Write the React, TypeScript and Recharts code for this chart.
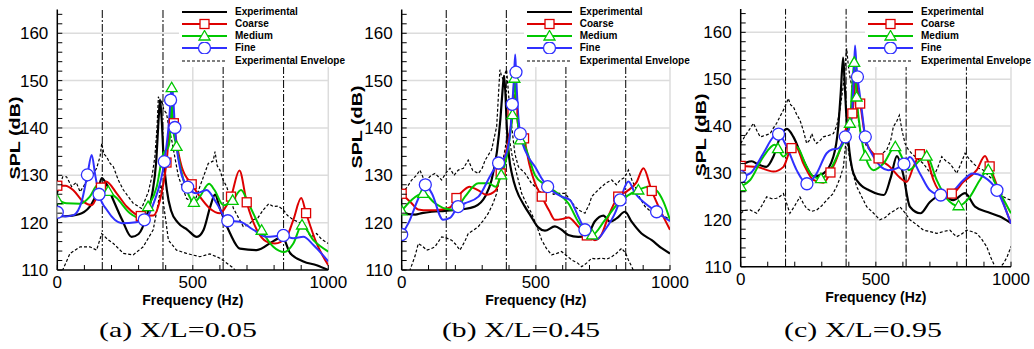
import React from "react";
import { ComposedChart, Line, ReferenceLine, XAxis, YAxis } from "recharts";

type P = [number, number];

const FONT = "'Liberation Sans', Arial, Helvetica, sans-serif";
const RED = "#dd0000";
const GREEN = "#00c800";
const BLUE = "#3030ff";

// axis ticks (all ticks carry a small inward mark, labels only on the major ones)
const yMajor = [110, 120, 130, 140, 150, 160];
const xMajor = [0, 500, 1000];
const yGrid = [120, 130, 140, 150, 160];
const xGrid = [500, 1000];
const yMinor = [110, 112, 114, 116, 118, 120, 122, 124, 126, 128, 130, 132, 134, 136, 138, 140, 142, 144, 146, 148, 150, 152, 154, 156, 158, 160, 162, 164];
const xMinor = [0, 100, 200, 300, 400, 500, 600, 700, 800, 900, 1000];
const modeFreqs = [166, 390, 612, 835];
const seriesNames = ["Experimental", "Coarse", "Medium", "Fine", "Experimental Envelope"];
const captions = ["(a) X/L=0.05", "(b) X/L=0.45", "(c) X/L=0.95"];

// ---- (a) X/L = 0.05
const expA: P[] = [[0,121.3],[40,121.4],[90,122],[127,124],[150,126.8],[164,129.4],[180,128.3],[205,125],[240,120.5],[274,117],[300,117.6],[330,121.5],[350,126],[365,133],[374,142],[379,146],[385,142],[392,134],[404,127],[420,122.5],[445,120],[480,118.5],[515,117],[540,118.5],[565,123.5],[582,125.9],[600,123],[637,117.8],[674,114.5],[736,114.2],[797,116.1],[830,117],[859,113.6],[908,111.8],[957,111],[1000,110]];
const coarseA: P[] = [[0,127.8],[30,127.8],[60,126.8],[95,124.5],[127,123.7],[161,127.4],[180,128.7],[219,126.2],[256,123.4],[308,121.4],[354,121.5],[379,124.8],[403,132.7],[421,143.2],[430,141],[440,137],[459,131.8],[496,128.1],[526,125.5],[563,123],[600,122],[618,123],[641,125.5],[672,131],[699,124.3],[736,118.5],[772,116],[803,115.6],[846,117],[871,120.6],[900,125.2],[918,122],[957,115.6],[1000,111]];
const coarseAMarks = [0, 161, 308, 403, 430, 496, 641, 699, 918];
const mediumA: P[] = [[0,124.8],[34,124.1],[84,124],[120,125.5],[150,128],[170,127.7],[188,126.6],[219,125.2],[268,122],[305,121],[335,123.4],[367,127.6],[391,134.6],[410,136],[418,140],[422,148.5],[427,140],[440,136.1],[455,131.5],[480,126.5],[504,124.3],[526,125.5],[560,128.2],[580,126.9],[613,123.7],[647,124.7],[678,126.9],[705,124.1],[754,118.4],[797,114.9],[838,113.8],[871,115.6],[903,119.5],[945,116.3],[1000,113.9]];
const mediumAMarks = [0, 188, 335, 422, 440, 504, 647, 754, 903];
const fineA: P[] = [[0,122.2],[30,121.3],[60,121.6],[90,124.5],[111,130.1],[127,134.3],[140,130],[154,126],[185,122.5],[238,119.9],[290,120.1],[321,120.6],[360,124.8],[395,132.9],[410,140],[418,145.9],[422,149.5],[428,146],[434,140.1],[455,131],[481,127.5],[514,126.2],[551,126.9],[588,124.1],[629,120.4],[674,120.2],[723,118.5],[772,117],[834,117.3],[871,116.7],[908,117],[945,115.3],[1000,111.8]];
const fineAMarks = [0, 111, 154, 321, 395, 418, 434, 481, 629, 834];
const envUpA: P[] = [[0,126.2],[20,129.7],[34,129.7],[53,127.6],[70,128.5],[84,126.5],[108,128.7],[130,130],[145,131.5],[158,134],[164,136.8],[172,134.5],[182,133.9],[195,132.5],[207,131.8],[225,129],[244,126.9],[280,124.1],[311,123],[336,126.5],[350,130],[360,133.9],[368,140],[373,146.6],[380,145],[385,145.9],[393,143.8],[403,143.1],[412,140],[422,137.5],[447,129.7],[477,125.1],[505,124.1],[526,127.6],[557,132.5],[575,133],[582,135],[590,132],[600,131.1],[612,129],[625,127.6],[650,123],[686,119.2],[705,119.5],[723,120.6],[740,121],[760,122.7],[780,124],[797,123.4],[815,123.5],[834,122.7],[850,121.5],[871,120.6],[895,120],[920,118.5],[935,117],[957,117.7],[975,116.5],[1000,115.6]];
const envLoA: P[] = [[0,108],[20,110],[47,113.5],[84,114.9],[120,114.9],[145,114.2],[164,117.7],[185,116.5],[207,115.6],[244,113.5],[280,113.2],[317,114.9],[354,118.5],[372,124],[383,128],[392,124],[410,116.3],[440,114.2],[477,113.5],[526,112.8],[563,113.4],[600,112.5],[650,110.4],[680,108]];

// ---- (b) X/L = 0.45
const expB: P[] = [[0,122.5],[25,121.8],[50,121.7],[75,122],[112,122.3],[161,122.5],[224,122.8],[273,123.4],[311,125.5],[335,129],[355,135],[368,142],[376,148],[381,151],[386,148],[392,140],[400,134],[412,130],[427,127],[458,123.5],[480,121.5],[509,119],[534,118.3],[571,119.2],[596,118.5],[621,117.4],[658,117],[690,117.2],[720,120.3],[752,121.5],[776,120.2],[801,120.9],[832,122.3],[857,120.2],[894,117.7],[932,116.3],[969,114.6],[1000,113.5]];
const coarseB: P[] = [[0,126.1],[37,124.1],[61,122.8],[100,122.6],[150,122.8],[180,123.2],[204,125.2],[230,126.8],[253,127.6],[286,126.8],[315,125.9],[350,126.8],[369,130.4],[398,137.5],[413,143.1],[419,147],[425,145],[435,140.3],[456,137.8],[475,132.5],[497,128.3],[522,125.5],[550,122.5],[571,120.6],[600,120.8],[621,121.1],[658,119.2],[690,117.3],[720,116.3],[745,117.5],[770,121.3],[807,125.5],[839,126.6],[875,128.5],[901,131.5],[932,126.7],[963,122.7],[1000,118.5]];
const coarseBMarks = [0, 204, 369, 413, 456, 522, 690, 807, 932];
const mediumB: P[] = [[0,122.5],[37,124.8],[80,126.2],[124,124.1],[161,123],[199,122.7],[236,125.5],[286,128.3],[323,128.3],[350,127.6],[371,130.1],[392,134],[405,139],[413,142.8],[420,150.5],[428,144],[442,137.5],[460,136],[497,130],[534,128],[571,126.6],[621,124.1],[660,120],[696,117.7],[710,117.4],[758,120.6],[807,124.1],[845,125.8],[882,126.9],[919,127.6],[950,126.8],[975,124.5],[1000,120.6]];
const mediumBMarks = [0, 80, 371, 413, 420, 442, 710, 882];
const fineB: P[] = [[0,117.5],[25,119.9],[62,125.1],[88,128],[112,126.2],[154,120.6],[180,121],[210,123.4],[236,124.1],[286,125.5],[335,130.4],[361,132.6],[385,133.9],[404,138.9],[412,145],[418,150],[423,155.5],[426,151.8],[434,143],[442,138.8],[472,133.9],[497,131.8],[520,129.5],[544,127.6],[596,125.5],[627,124.8],[658,121.3],[683,118.5],[727,116.5],[758,118.5],[795,122],[814,124.8],[845,128.7],[870,126.2],[907,124.1],[950,122.3],[1000,120.3]];
const fineBMarks = [0, 88, 210, 361, 412, 426, 442, 544, 683, 814, 950];
const envUpB: P[] = [[0,126.2],[20,127.5],[37,129],[55,130],[68,131.1],[80,129.5],[93,129],[110,130],[124,130.4],[149,129],[165,130.5],[180,131.5],[195,130],[211,131.1],[230,131.5],[248,133.2],[265,131],[286,130.4],[300,131.5],[311,133.2],[335,135.4],[354,140.3],[366,152.3],[372,151],[379,150.1],[385,151.5],[391,152.3],[400,146],[410,140.3],[422,134.5],[435,131.8],[460,130.4],[484,128.3],[500,127.5],[522,126.2],[535,127],[547,127.6],[565,126],[584,126.2],[609,126.2],[625,125],[646,123.4],[665,122.5],[683,122],[700,124],[708,125.5],[725,126.5],[745,127.6],[765,128.5],[783,129],[800,128],[814,129],[830,129.5],[845,131.1],[858,129],[870,127.6],[885,125.5],[907,123.4],[925,122.5],[944,122],[960,121.5],[981,121.3],[1000,120.6]];
const envLoB: P[] = [[0,107],[31,110],[50,113],[62,115.6],[78,115],[93,114.2],[110,114.5],[124,114.9],[137,116],[149,117],[165,116.8],[186,116.3],[200,115.5],[217,114.2],[235,116],[248,117.7],[270,118.5],[286,119.2],[305,120.5],[323,122],[340,124],[354,126.2],[373,131.8],[385,135.5],[395,138.9],[403,137],[412,134],[422,131.8],[447,126.2],[465,124],[484,122],[505,119],[522,116.3],[540,114.5],[559,113.2],[578,113.5],[596,113.9],[615,113],[634,112.1],[655,111.5],[671,110.7],[690,111.5],[708,112.5],[725,112.3],[745,112.5],[765,112.3],[783,112.8],[800,113.5],[820,114.6],[835,113.5],[845,112.1],[855,111],[863,110],[875,108]];

// ---- (c) X/L = 0.95
const expC: P[] = [[0,131.6],[20,132.2],[41,132.5],[65,131.8],[95,131.3],[121,133.5],[146,137.7],[171,139.4],[195,137.7],[232,132.7],[270,129.3],[306,129.9],[343,133.5],[361,139.9],[370,147],[379,154.6],[384,150],[390,143],[398,137],[417,129.9],[446,127.3],[475,126.3],[508,125.5],[530,125.3],[555,129],[578,133.6],[600,130],[626,122.8],[665,121.4],[700,123.8],[744,125.3],[786,124.2],[830,125.7],[867,122.8],[916,121.6],[959,120.7],[1000,119.3]];
const coarseC: P[] = [[0,131.5],[59,131.3],[121,130.3],[158,131.3],[188,135.3],[205,135.5],[232,132],[269,128.5],[306,127.9],[332,130.1],[367,134.9],[392,139.9],[413,142.7],[419,146],[425,151],[432,148],[442,144.8],[466,136.3],[510,133.1],[552,131.3],[589,129],[614,128.1],[639,131.3],[663,134],[676,134.5],[690,133],[713,128.5],[750,125.6],[781,125.6],[824,128.1],[873,130.6],[904,133.6],[921,131.4],[959,125.6],[1000,119.2]];
const coarseCMarks = [0, 188, 332, 413, 442, 510, 663, 781, 921];
const mediumC: P[] = [[0,127.1],[35,128.5],[84,133.5],[126,136],[138,135.2],[158,133.5],[182,134.9],[207,135.6],[244,131.3],[269,129.2],[297,128.8],[330,130.6],[367,134.9],[404,140.6],[412,148],[420,153.6],[425,150],[429,146.2],[444,138.4],[461,133.6],[491,130.6],[528,132],[572,135.6],[602,132.7],[622,130.6],[663,132.7],[688,133.6],[725,128.5],[762,124.6],[806,123],[848,124.9],[885,128.5],[916,130.7],[947,127.1],[1000,121.4]];
const mediumCMarks = [0, 138, 297, 404, 420, 429, 461, 572, 688, 806, 916];
const fineC: P[] = [[0,129.2],[35,129.9],[84,134.2],[121,137.7],[140,138.3],[170,135.6],[207,130.6],[245,127.7],[281,129.9],[318,134.2],[338,135],[360,135.2],[387,137.7],[410,141.5],[418,150],[423,157.2],[428,153],[432,150.5],[440,147],[448,143.4],[461,137.7],[491,133.5],[546,130.6],[604,131.9],[626,133.4],[663,129.9],[700,126.3],[740,125.3],[774,125.6],[824,128.5],[857,129.9],[898,129.2],[948,126.3],[1000,119.2]];
const fineCMarks = [0, 140, 245, 387, 432, 461, 604, 740, 948];
const envUpC: P[] = [[0,136.3],[12,137.5],[22,138.4],[35,139.5],[47,140.6],[60,139],[72,137.7],[90,138],[109,138.4],[120,139.5],[133,140.6],[145,142],[158,143.4],[170,145],[176,145.9],[185,144.5],[195,144.1],[207,142.5],[219,141.3],[232,139],[244,136.3],[255,137],[263,138.4],[272,137],[281,136.3],[295,137],[306,137.7],[325,138],[343,138.4],[355,140],[367,143.4],[378,148],[386,152.6],[392,156.6],[398,153],[404,150.5],[413,148],[423,146.2],[441,139.1],[466,135.6],[484,134.5],[503,133.5],[520,134],[540,134.9],[555,137],[565,139.9],[577,141],[587,142.3],[597,139],[608,136.3],[620,135],[632,134.2],[655,133],[676,132],[695,130.5],[713,129.2],[728,131],[744,133.5],[760,132.5],[774,132],[787,131],[799,129.9],[815,132],[830,134.2],[845,133],[861,132],[880,131],[898,130.6],[915,129.5],[935,128.5],[955,126.5],[972,124.9],[985,124.5],[1000,124.2]];
const envLoC: P[] = [[0,121.4],[15,122],[35,122.1],[59,121.4],[78,123],[96,124.9],[115,124.5],[133,124.6],[145,125],[158,125.6],[170,123.5],[182,121.4],[200,123],[219,124.9],[232,123.5],[244,122.4],[262,121.8],[281,122.1],[300,123],[318,124.2],[340,125.5],[355,127.1],[368,129],[380,131.3],[392,138.4],[398,135],[404,132.7],[415,130],[429,127.1],[447,125],[466,122.8],[490,121.5],[515,120],[535,120.5],[552,121.4],[570,122],[589,122.8],[608,121.5],[626,120],[650,119],[676,117.8],[700,117.5],[725,117.1],[750,117.5],[774,117.8],[787,117],[799,116.4],[818,117],[836,117.8],[855,117.5],[873,117.1],[890,116],[910,114.3],[925,112],[941,110],[955,109.5],[972,110.7],[985,112],[1000,114.3]];

type PanelDef = {
  left: number; width: number; clip: number;
  margin: { top: number; right: number; left: number; bottom: number };
  yTitle: [number, number];
  legendX: number;
  caption: string; captionX: number;
  exp: P[]; coarse: P[]; medium: P[]; fine: P[]; envUp: P[]; envLo: P[];
  coarseMarks: number[]; mediumMarks: number[]; fineMarks: number[];
};

const panels: PanelDef[] = [
  { left: 0, width: 350, clip: 349, margin: { top: 9.6, right: 21.7, left: 7.3, bottom: 43 }, yTitle: [15, 138], legendX: 182, caption: captions[0], captionX: 178,
    exp: expA, coarse: coarseA, medium: mediumA, fine: fineA, envUp: envUpA, envLo: envLoA, coarseMarks: coarseAMarks, mediumMarks: mediumAMarks, fineMarks: fineAMarks },
  { left: 345, width: 345, clip: 345, margin: { top: 9.6, right: 20, left: 6.7, bottom: 43 }, yTitle: [11.7, 127], legendX: 181.7, caption: captions[1], captionX: 176,
    exp: expB, coarse: coarseB, medium: mediumB, fine: fineB, envUp: envUpB, envLo: envLoB, coarseMarks: coarseBMarks, mediumMarks: mediumBMarks, fineMarks: fineBMarks },
  { left: 690, width: 344, clip: 344, margin: { top: 8.9, right: 23, left: 0.7, bottom: 46.3 }, yTitle: [10.7, 135], legendX: 178, caption: captions[2], captionX: 173,
    exp: expC, coarse: coarseC, medium: mediumC, fine: fineC, envUp: envUpC, envLo: envLoC, coarseMarks: coarseCMarks, mediumMarks: mediumCMarks, fineMarks: fineCMarks },
];

const toPts = (pairs: P[]) => pairs.map(([f, v]) => ({ f, v }));

function Marker({ shape, color, x, y }: { shape: string; color: string; x: number; y: number }) {
  if (shape === "square")
    return <rect x={x - 4.5} y={y - 4.5} width={9} height={9} fill="#fff" stroke={color} strokeWidth={1.3} />;
  if (shape === "triangle")
    return <polygon points={`${x},${y - 5.5} ${x - 5.5},${y + 4} ${x + 5.5},${y + 4}`} fill="#fff" stroke={color} strokeWidth={1.3} />;
  return <circle cx={x} cy={y} r={6} fill="#fff" stroke={color} strokeWidth={1.3} />;
}

const markerDot = (shape: string, color: string, marks: number[]) => (props: any) => {
  const { cx, cy, payload, index } = props;
  if (!marks.includes(payload.f)) return <g key={index} />;
  return <Marker key={index} shape={shape} color={color} x={cx} y={cy} />;
};

const TICK_GAP = 9;

// left axis: inward tick mark on every 2 dB, label on every 10 dB
function YTick(props: any) {
  const { x, y, payload } = props;
  const v = payload.value as number;
  return (
    <g>
      <line x1={x + TICK_GAP} x2={x + TICK_GAP + 5} y1={y} y2={y} stroke="#000" strokeWidth={1} />
      {yMajor.includes(v) && (
        <text x={x} y={y} dy="0.36em" textAnchor="end" fontFamily={FONT} fontSize={17} fill="#000">{v}</text>
      )}
    </g>
  );
}

// bottom axis: inward tick mark every 100 Hz, label on 0 / 500 / 1000
function XTick(props: any) {
  const { x, y, payload } = props;
  const v = payload.value as number;
  return (
    <g>
      <line x1={x} x2={x} y1={y - TICK_GAP} y2={y - TICK_GAP - 5} stroke="#000" strokeWidth={1} />
      {xMajor.includes(v) && (
        <text x={x} y={y} dy="0.53em" textAnchor="middle" fontFamily={FONT} fontSize={17} fill="#000">{v}</text>
      )}
    </g>
  );
}

function YTitle({ cx, cy }: { cx: number; cy: number }) {
  return (
    <text transform={`translate(${cx},${cy}) rotate(-90)`} textAnchor="middle" dominantBaseline="central"
      fontFamily={FONT} fontSize={14} fontWeight="bold" fill="#000" textLength={83} lengthAdjust="spacingAndGlyphs">
      SPL (dB)
    </text>
  );
}

const legendStyles = [
  { color: "#000", shape: "", dash: undefined },
  { color: RED, shape: "square", dash: undefined },
  { color: GREEN, shape: "triangle", dash: undefined },
  { color: BLUE, shape: "circle", dash: undefined },
  { color: "#000", shape: "", dash: "3 2" },
];

function Key({ x }: { x: number }) {
  const rowY = [11.7, 24, 36, 48.3, 61];
  return (
    <div style={{ position: "absolute", left: x - 3, top: 2, width: 180, height: 65, background: "#fff" }}>
      {seriesNames.map((name, i) => (
        <div key={name} style={{ position: "absolute", left: 0, top: rowY[i] - 2 - 6, height: 12, display: "flex", alignItems: "center" }}>
          <svg width={52} height={12} style={{ display: "block" }}>
            <line x1={3} x2={48} y1={6} y2={6} stroke={legendStyles[i].color} strokeWidth={legendStyles[i].dash ? 1.2 : 2} strokeDasharray={legendStyles[i].dash} />
            {legendStyles[i].shape && <Marker shape={legendStyles[i].shape} color={legendStyles[i].color} x={25.5} y={6} />}
          </svg>
          <span style={{ marginLeft: 4, fontFamily: FONT, fontWeight: "bold", fontSize: 10, lineHeight: "12px", whiteSpace: "nowrap", color: "#000" }}>{name}</span>
        </div>
      ))}
    </div>
  );
}

function Panel({ p }: { p: PanelDef }) {
  return (
    <div style={{ position: "absolute", left: p.left, top: 0, width: p.clip, height: 349, overflow: "hidden" }}>
      <ComposedChart width={p.width} height={349} margin={p.margin}>
        <XAxis xAxisId="main" type="number" dataKey="f" domain={[0, 1000]} ticks={xMinor} interval={0} allowDataOverflow
          tickLine={false} tickSize={0} tickMargin={TICK_GAP} height={36} tick={<XTick />}
          axisLine={{ stroke: "#000", strokeWidth: 1.5 }}
          label={{ value: "Frequency (Hz)", position: "insideBottom", offset: 1, fill: "#000", fontSize: 14, fontWeight: "bold", fontFamily: FONT }} />
        <YAxis yAxisId="main" type="number" domain={[110, 165]} ticks={yMinor} interval={0} allowDataOverflow
          tickLine={false} tickSize={0} tickMargin={TICK_GAP} width={50} tick={<YTick />}
          axisLine={{ stroke: "#000", strokeWidth: 1.5 }}
          label={<YTitle cx={p.yTitle[0]} cy={p.yTitle[1]} />} />
        {yGrid.map((v) => (
          <ReferenceLine key={`h${v}`} xAxisId="main" yAxisId="main" y={v} stroke="#dcdcdc" strokeWidth={1.5} />
        ))}
        {xGrid.map((v) => (
          <ReferenceLine key={`v${v}`} xAxisId="main" yAxisId="main" x={v} stroke="#dcdcdc" strokeWidth={1.5} />
        ))}
        {modeFreqs.map((f) => (
          <ReferenceLine key={f} xAxisId="main" yAxisId="main" x={f} stroke="#000" strokeWidth={1} strokeDasharray="8 2 2 2" />
        ))}
        <Line xAxisId="main" yAxisId="main" data={toPts(p.envUp)} dataKey="v" type="linear" stroke="#000" strokeWidth={1.2} strokeDasharray="3 2" dot={false} isAnimationActive={false} />
        <Line xAxisId="main" yAxisId="main" data={toPts(p.envLo)} dataKey="v" type="linear" stroke="#000" strokeWidth={1.2} strokeDasharray="3 2" dot={false} isAnimationActive={false} />
        <Line xAxisId="main" yAxisId="main" data={toPts(p.exp)} dataKey="v" type="monotone" stroke="#000" strokeWidth={2.2} dot={false} isAnimationActive={false} />
        <Line xAxisId="main" yAxisId="main" data={toPts(p.coarse)} dataKey="v" type="monotone" stroke={RED} strokeWidth={2} dot={markerDot("square", RED, p.coarseMarks)} isAnimationActive={false} />
        <Line xAxisId="main" yAxisId="main" data={toPts(p.medium)} dataKey="v" type="monotone" stroke={GREEN} strokeWidth={2} dot={markerDot("triangle", GREEN, p.mediumMarks)} isAnimationActive={false} />
        <Line xAxisId="main" yAxisId="main" data={toPts(p.fine)} dataKey="v" type="monotone" stroke={BLUE} strokeWidth={2} dot={markerDot("circle", BLUE, p.fineMarks)} isAnimationActive={false} />
      </ComposedChart>
      <Key x={p.legendX} />
      <svg width={p.clip} height={49} style={{ position: "absolute", left: 0, top: 300 }}>
        <text x={p.captionX} y={37} textAnchor="middle" fontFamily="'Liberation Serif', 'Times New Roman', serif" fontSize={21}
          fill="#000" textLength={158} lengthAdjust="spacingAndGlyphs">{p.caption}</text>
      </svg>
    </div>
  );
}

export default function App() {
  return (
    <div style={{ position: "absolute", left: 0, top: 0, width: 1034, height: 349, background: "#fff", overflow: "hidden" }}>
      {panels.map((p) => (
        <Panel key={p.caption} p={p} />
      ))}
    </div>
  );
}
